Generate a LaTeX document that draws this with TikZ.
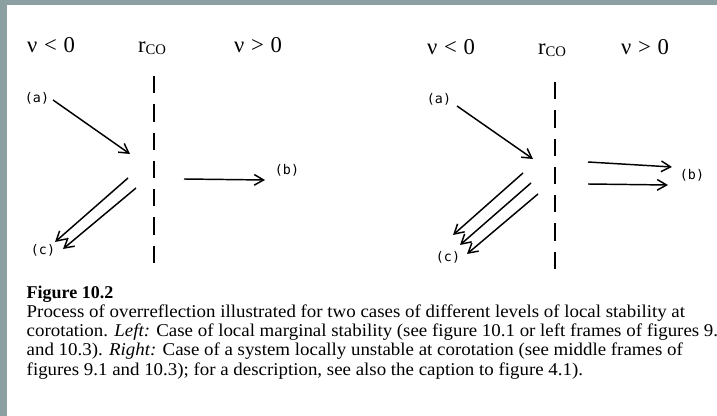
\documentclass[tikz,border=0pt]{standalone}
\usepackage{fontspec}
\setmainfont{Liberation Serif}
\newfontfamily\captionfont{Liberation Serif}[FakeStretch=1.05]
\newfontfamily\raylabelfont{DejaVu Sans Mono}
\usepackage{xcolor}
\usetikzlibrary{arrows.meta}
\definecolor{framegray}{RGB}{140,160,162}

\begin{document}
\begin{tikzpicture}[x=0.75pt,y=-0.75pt,
  ray/.style={line width=1.1pt,-{Straight Barb[length=7pt,width=8pt]}},
  corot/.style={line width=1.4pt,dash pattern=on 13pt off 8.2pt},
  side/.style={anchor=base,font=\fontsize{17}{19}\selectfont},
  raylabel/.style={font=\raylabelfont\fontsize{10}{11}\selectfont},
  capline/.style={anchor=base west,font=\captionfont\fontsize{13.5}{16}\selectfont}]
  \useasboundingbox (0,0) rectangle (717,416);
  \fill[framegray] (0,0) rectangle (717,5);
  \fill[framegray] (0,0) rectangle (7,416);

  \node[side] (lneg) at (51,53) {ν\hspace{0.3em}<\hspace{0.3em}0};
  \node[side] (lrco) at (152,53) {r\raisebox{-1pt}{\fontsize{11}{13}\selectfont CO}};
  \node[side] (lpos) at (258,53) {ν\hspace{0.3em}>\hspace{0.3em}0};
  \coordinate (ltop) at (154,76);
  \coordinate (lbot) at (154,266);
  \draw[corot] (ltop) -- (lbot);
  \node[raylabel] (la) at (37,98) {(a)};
  \node[raylabel] (lb) at (287,170) {(b)};
  \node[raylabel] (lc) at (43,250) {(c)};
  \coordinate (la0) at (53,100);
  \coordinate (la1) at (130,154);
  \coordinate (lb0) at (184,179);
  \coordinate (lb1) at (265,180);
  \coordinate (lc0) at (128,178);
  \coordinate (lc1) at (55,242);
  \coordinate (ld0) at (136,188);
  \coordinate (ld1) at (63,249);
  \draw[ray] (la0) -- (la1);
  \draw[ray] (lb0) -- (lb1);
  \draw[ray] (lc0) -- (lc1);
  \draw[ray] (ld0) -- (ld1);

  \node[side] (rneg) at (451,55) {ν\hspace{0.3em}<\hspace{0.3em}0};
  \node[side] (rrco) at (552,55) {r\raisebox{-1pt}{\fontsize{11}{13}\selectfont CO}};
  \node[side] (rpos) at (645,55) {ν\hspace{0.3em}>\hspace{0.3em}0};
  \coordinate (rtop) at (555,82);
  \coordinate (rbot) at (555,270);
  \draw[corot] (rtop) -- (rbot);
  \node[raylabel] (ra) at (439,99) {(a)};
  \node[raylabel] (rb) at (692,175) {(b)};
  \node[raylabel] (rc) at (448,257) {(c)};
  \coordinate (ra0) at (457,106);
  \coordinate (ra1) at (533,159);
  \coordinate (rb0) at (588,162);
  \coordinate (rb1) at (672,167);
  \coordinate (re0) at (588,184);
  \coordinate (re1) at (668,185);
  \coordinate (rc0) at (523,173);
  \coordinate (rc1) at (453,235);
  \coordinate (rd0) at (531,183);
  \coordinate (rd1) at (460,245);
  \coordinate (rf0) at (538,194);
  \coordinate (rf1) at (467,254);
  \draw[ray] (ra0) -- (ra1);
  \draw[ray] (rb0) -- (rb1);
  \draw[ray] (re0) -- (re1);
  \draw[ray] (rc0) -- (rc1);
  \draw[ray] (rd0) -- (rd1);
  \draw[ray] (rf0) -- (rf1);

  \node[capline,font=\fontsize{13.5}{16}\selectfont\bfseries] (cap0) at (22,299) {Figure 10.2};
  \node[capline] (cap1) at (22,318) {Process of overreflection illustrated for two cases of different levels of local stability at};
  \node[capline] (cap2) at (22,337) {corotation. \textit{Left:} Case of local marginal stability (see figure 10.1 or left frames of figures 9.1};
  \node[capline] (cap3) at (22,356) {and 10.3). \textit{Right:} Case of a system locally unstable at corotation (see middle frames of};
  \node[capline] (cap4) at (22,375) {figures 9.1 and 10.3); for a description, see also the caption to figure 4.1).};
\end{tikzpicture}
\end{document}
